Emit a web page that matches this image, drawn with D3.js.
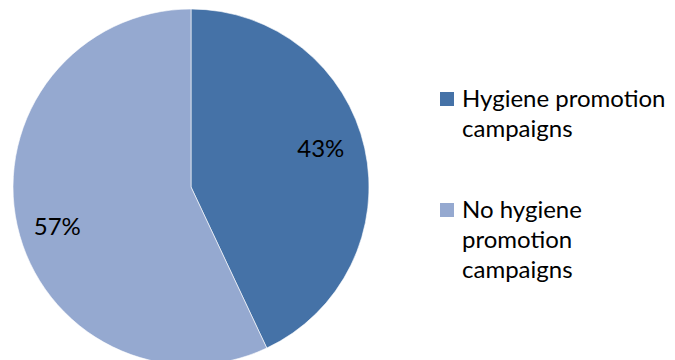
<!DOCTYPE html>
<html>
<head>
<meta charset="utf-8">
<script src="https://cdn.jsdelivr.net/npm/d3@7"></script>
<style>
  html, body { margin: 0; padding: 0; background: #fff; }
  svg { display: block; }
  text { font-family: Lato, "Open Sans", sans-serif; fill: #000; }
</style>
</head>
<body>
<svg id="chart" width="675" height="360"></svg>
<script>
// Share of respondents reached by hygiene promotion campaigns
const categories = ["Hygiene promotion campaigns", "No hygiene promotion campaigns"];
const legendLines = [["Hygiene promotion", "campaigns"], ["No hygiene", "promotion", "campaigns"]];
const shares = [43, 57];
const colors = ["#4572A7", "#95A9D0"];

const svg = d3.select("#chart");
const cx = 191, cy = 187, R = 178;

const pie = d3.pie().sort(null).value(d => d)(shares);
const arc = d3.arc().innerRadius(0).outerRadius(R);
const labelArc = d3.arc().innerRadius(R * 0.77).outerRadius(R * 0.77);

const g = svg.append("g").attr("transform", `translate(${cx},${cy})`);

g.selectAll("path.slice")
  .data(pie)
  .join("path")
  .attr("class", "slice")
  .attr("d", arc)
  .attr("fill", (d, i) => colors[i])
  .attr("stroke", "#fff")
  .attr("stroke-width", 0.6);

// nudges so the percentage labels sit where the slices leave room
const labelNudge = [[-4, -9], [0, 10]];
g.selectAll("text.pct")
  .data(pie)
  .join("text")
  .attr("class", "pct")
  .attr("transform", (d, i) => {
    const [x, y] = labelArc.centroid(d);
    return `translate(${x + labelNudge[i][0]},${y + labelNudge[i][1]})`;
  })
  .attr("text-anchor", "middle")
  .attr("dy", "0.35em")
  .style("font-size", "24px")
  .text(d => d.data + "%");

// legend
const legend = svg.append("g").attr("class", "legend");
const entryTop = [92, 203];
const lineH = 30;
categories.forEach((c, i) => {
  const y0 = entryTop[i];
  legend.append("rect")
    .attr("x", 440).attr("y", y0)
    .attr("width", 14).attr("height", 14)
    .attr("fill", colors[i]);
  const t = legend.append("text")
    .attr("x", 462)
    .attr("y", y0 + 15)
    .style("font-size", "24px");
  legendLines[i].forEach((ln, k) => {
    t.append("tspan").attr("x", 462).attr("dy", k === 0 ? 0 : lineH).text(ln);
  });
});
</script>
</body>
</html>
